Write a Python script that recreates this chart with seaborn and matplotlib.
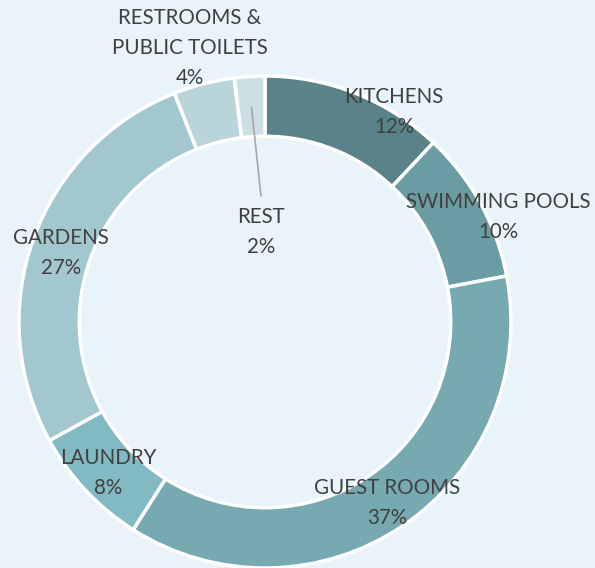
import matplotlib
matplotlib.use("Agg")
import matplotlib.pyplot as plt
import seaborn as sns
import numpy as np

sns.set_theme(style="white")
plt.rcParams['font.family'] = ['Lato', 'DejaVu Sans']

categories = ["KITCHENS", "SWIMMING POOLS", "GUEST ROOMS", "LAUNDRY", "GARDENS",
              "RESTROOMS &\nPUBLIC TOILETS", "REST"]
values = [12, 10, 37, 8, 27, 4, 2]
colors = ["#5A8289", "#6A9CA3", "#77A9B1", "#82BAC3", "#A2C7CF", "#B9D5DA", "#CCE0E4"]

# label centres in pixels of the reference (x from left, y from top)
label_px = [(394, 112), (498, 217), (387, 503), (108, 473), (61, 253), (190, 48), (261, 232)]

bg = "#E8F4FA"
W, H = 595, 568
fig = plt.figure(figsize=(W / 100, H / 100), dpi=100, facecolor=bg)
cx, cy, R = 265, 322, 246
ax = fig.add_axes([(cx - R) / W, (H - cy - R) / H, 2 * R / W, 2 * R / H])
ax.set_facecolor(bg)

wedges, _ = ax.pie(values, colors=colors, startangle=90, counterclock=False,
                   radius=1.0, wedgeprops=dict(width=0.245, edgecolor="white", linewidth=2.5))
ax.set_xlim(-1, 1)
ax.set_ylim(-1, 1)
ax.set_aspect("equal")
ax.axis("off")

def to_data(px, py):
    return (px - cx) / R, (cy - py) / R

for cat, v, (px, py) in zip(categories, values, label_px):
    x, y = to_data(px, py)
    ax.text(x, y, f"{cat}\n{v}%", ha="center", va="center", fontsize=14.8,
            color="#404040", linespacing=1.62, clip_on=False)

# leader line for REST
w = wedges[-1]
mid = np.deg2rad((w.theta1 + w.theta2) / 2)
r0 = 0.875
x0, y0 = r0 * np.cos(mid), r0 * np.sin(mid)
x1, y1 = to_data(261, 196)
ax.plot([x0, x1], [y0, y1], color="#A6A6A6", lw=1.2)

fig.savefig("out.png", dpi=100, facecolor=bg)
